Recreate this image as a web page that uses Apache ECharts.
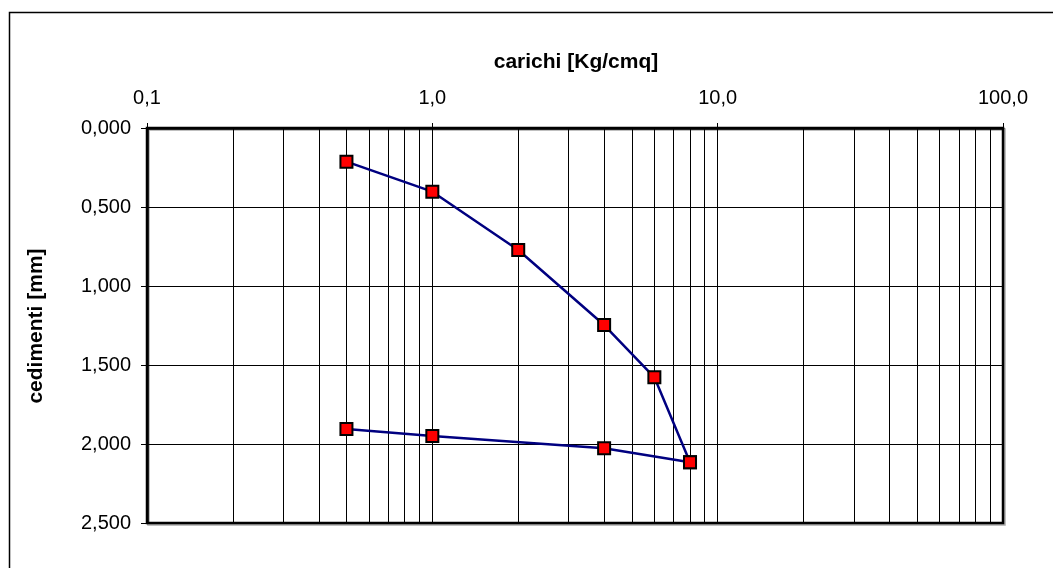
<!DOCTYPE html>
<html>
<head>
<meta charset="utf-8">
<script src="https://cdn.jsdelivr.net/npm/echarts@6/dist/echarts.min.js"></script>
<style>
html,body{margin:0;padding:0;background:#fff;}
#c{width:1053px;height:568px;}
</style>
</head>
<body>
<div id="c"></div>
<script>
// loading branch
const loadX = [0.5, 1, 2, 4, 6, 8];
const loadY = [0.213, 0.403, 0.772, 1.247, 1.578, 2.116];
// unloading branch
const unloadX = [8, 4, 1, 0.5];
const unloadY = [2.116, 2.027, 1.95, 1.905];
// minor log gridlines
const minorGrid = [0.2,0.3,0.4,0.5,0.6,0.7,0.8,0.9,2,3,4,5,6,7,8,9,20,30,40,50,60,70,80,90];
const xTitle = 'carichi [Kg/cmq]';
const yTitle = 'cedimenti [mm]';

const chart = echarts.init(document.getElementById('c'), null, {renderer:'canvas'});
const font = 'Liberation Sans, Arial, sans-serif';
const pairs = (xs, ys) => xs.map((x, i) => [x, ys[i]]);
const markerStyle = {color:'#ff0000', borderColor:'#000', borderWidth:2};

chart.setOption({
  animation:false,
  backgroundColor:'#fff',
  graphic:[
    {type:'rect', left:7, top:10, shape:{x:0,y:0,width:1100,height:600}, style:{fill:'none', stroke:'#000', lineWidth:1.5}, silent:true, z:-1},
    {type:'text', x:576, y:62, style:{text:xTitle, font:'bold 21px '+font, fill:'#000', align:'center', verticalAlign:'middle'}},
    {type:'text', x:36, y:326, rotation:Math.PI/2, style:{text:yTitle, font:'bold 21px '+font, fill:'#000', align:'center', verticalAlign:'middle'}}
  ],
  grid:{left:147, right:50, top:128, bottom:45, show:true, backgroundColor:'#fff', borderColor:'#000', borderWidth:2.5, shadowColor:'#aaa', shadowOffsetX:1.5, shadowOffsetY:1.5, shadowBlur:0},
  xAxis:{
    type:'log', logBase:10, min:0.1, max:100, position:'top',
    axisLine:{show:true, lineStyle:{color:'#000', width:2.5}},
    axisTick:{show:true, length:5, lineStyle:{color:'#000'}},
    axisLabel:{margin:20, fontFamily:font, fontSize:20, color:'#000', formatter:v=>Number(v).toFixed(1).replace('.',',')},
    splitLine:{show:true, lineStyle:{color:'#000', width:1}},
    minorTick:{show:false}, minorSplitLine:{show:false}
  },
  yAxis:{
    type:'value', inverse:true, min:0, max:2.5, interval:0.5,
    axisLine:{show:true, lineStyle:{color:'#000', width:2.5}},
    axisTick:{show:true, length:6, lineStyle:{color:'#000'}},
    axisLabel:{margin:16, fontFamily:font, fontSize:20, color:'#000', formatter:v=>Number(v).toFixed(3).replace('.',',')},
    splitLine:{show:true, lineStyle:{color:'#000', width:1}}
  },
  series:[
    {type:'line', data:pairs(loadX, loadY), symbol:'rect', symbolSize:12,
     lineStyle:{color:'#000080', width:2.5}, itemStyle:markerStyle, z:5,
     markLine:{silent:true, symbol:'none', label:{show:false}, lineStyle:{color:'#000', width:1, type:'solid'}, z:1,
       data:minorGrid.map(v=>({xAxis:v}))}},
    {type:'line', data:pairs(unloadX, unloadY), symbol:'rect', symbolSize:12,
     lineStyle:{color:'#000080', width:2.5}, itemStyle:markerStyle, z:5}
  ]
});
</script>
</body>
</html>
